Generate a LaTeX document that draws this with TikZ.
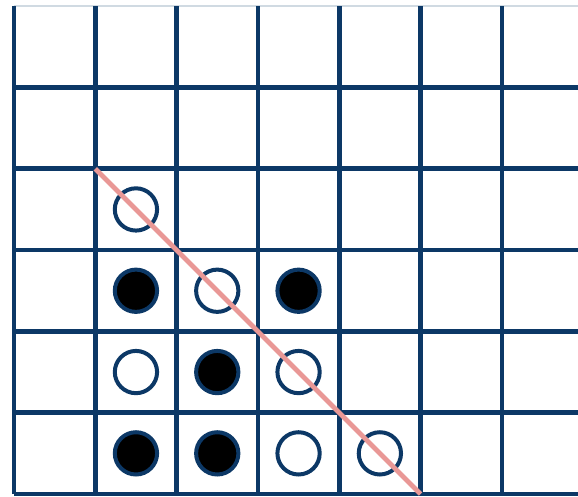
\documentclass[tikz,border=0pt]{standalone}
\usepackage{tikz}
\usepackage{xcolor}
\definecolor{gridnavy}{RGB}{12, 56, 102}
\definecolor{diagpink}{RGB}{233, 152, 150}
\definecolor{edgegray}{RGB}{208, 218, 226}

\begin{document}
\begin{tikzpicture}[
      gridline/.style={draw=gridnavy, line width=1.6pt},
      stone/.style={circle, draw=gridnavy, line width=1.4pt,
                    minimum size=0.52cm, inner sep=0pt},
      blackstone/.style={stone, fill=black},
      whitestone/.style={stone, fill=white},
      diagline/.style={draw=diagpink, line width=1.7pt}
    ]
      \useasboundingbox (-0.172,-0.025) rectangle (6.937,6.076);

      % Grille
      \draw[edgegray, line width=0.6pt] (0,6) -- (6.937,6);
      \foreach \y in {0,...,5}
        \draw[gridline] (0,\y) -- (6.937,\y);
      \foreach \x in {0,...,6}
        \draw[gridline] (\x,0) -- (\x,6);

      % Pions
      \node[whitestone] (w13) at (1.5,3.5) {};
      \node[blackstone] (b12) at (1.5,2.5) {};
      \node[whitestone] (w22) at (2.5,2.5) {};
      \node[blackstone] (b32) at (3.5,2.5) {};
      \node[whitestone] (w11) at (1.5,1.5) {};
      \node[blackstone] (b21) at (2.5,1.5) {};
      \node[whitestone] (w31) at (3.5,1.5) {};
      \node[blackstone] (b10) at (1.5,0.5) {};
      \node[blackstone] (b20) at (2.5,0.5) {};
      \node[whitestone] (w30) at (3.5,0.5) {};
      \node[whitestone] (w40) at (4.5,0.5) {};

      % Diagonale
      \coordinate (dstart) at (1,4);
      \coordinate (dend) at (5,0);
      \draw[diagline] (dstart) -- (dend);
    \end{tikzpicture}
\end{document}
